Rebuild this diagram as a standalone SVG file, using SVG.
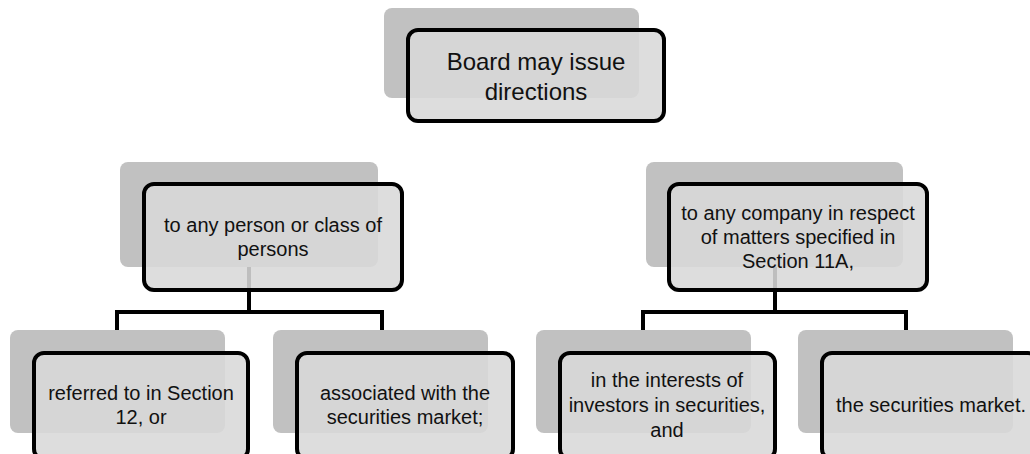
<svg xmlns="http://www.w3.org/2000/svg" width="1030" height="454" viewBox="0 0 1030 454">
<style>
.sh{fill:#c1c1c1;}
.fr{fill:#d8d8d8;fill-opacity:0.88;stroke:#000;stroke-width:4;}
.t{font-family:"Liberation Sans",Arial,sans-serif;font-size:20px;fill:#111;text-anchor:middle;}
.tb{font-size:24px;}
.c{fill:none;stroke:#000;stroke-width:4;}
</style>
<rect width="1030" height="454" fill="#fff"/>
<g id="connectors">
<path class="c" d="M249,267 V312 M117,312 H382 M117,310 V330 M382,310 V330"/>
<path class="c" d="M775,267 V312 M643,312 H906 M643,310 V330 M906,310 V330"/>
</g>
<g id="node-board">
<rect class="sh" x="384" y="8" width="255" height="90" rx="8"/>
<rect class="fr" x="408" y="30" width="256" height="91" rx="10"/>
<text class="t tb" x="536" y="70">Board may issue</text>
<text class="t tb" x="536" y="100">directions</text>
</g>
<g id="node-persons">
<rect class="sh" x="120" y="162" width="258" height="105" rx="8"/>
<rect class="fr" x="144" y="184" width="258" height="106" rx="10"/>
<text class="t" x="273" y="232">to any person or class of</text>
<text class="t" x="273" y="256">persons</text>
</g>
<g id="node-company">
<rect class="sh" x="646" y="162" width="257" height="105" rx="8"/>
<rect class="fr" x="669" y="184" width="258" height="106" rx="10"/>
<text class="t" x="798" y="220">to any company in respect</text>
<text class="t" x="798" y="244">of matters specified in</text>
<text class="t" x="798" y="268">Section 11A,</text>
</g>
<g id="node-section12">
<rect class="sh" x="10" y="330" width="215" height="103" rx="8"/>
<rect class="fr" x="34" y="353" width="214" height="106" rx="10"/>
<text class="t" x="141" y="400">referred to in Section</text>
<text class="t" x="141" y="424">12, or</text>
</g>
<g id="node-associated">
<rect class="sh" x="273" y="330" width="215" height="103" rx="8"/>
<rect class="fr" x="297" y="353" width="216" height="106" rx="10"/>
<text class="t" x="405" y="400">associated with the</text>
<text class="t" x="405" y="424">securities market;</text>
</g>
<g id="node-investors">
<rect class="sh" x="536" y="330" width="215" height="103" rx="8"/>
<rect class="fr" x="560" y="353" width="215" height="106" rx="10"/>
<text class="t" x="667" y="387">in the interests of</text>
<text class="t" x="667" y="412">investors in securities,</text>
<text class="t" x="667" y="437">and</text>
</g>
<g id="node-market">
<rect class="sh" x="798" y="330" width="215" height="103" rx="8"/>
<rect class="fr" x="822" y="353" width="216" height="106" rx="10"/>
<text class="t" x="931" y="412">the securities market.</text>
</g>
</svg>
